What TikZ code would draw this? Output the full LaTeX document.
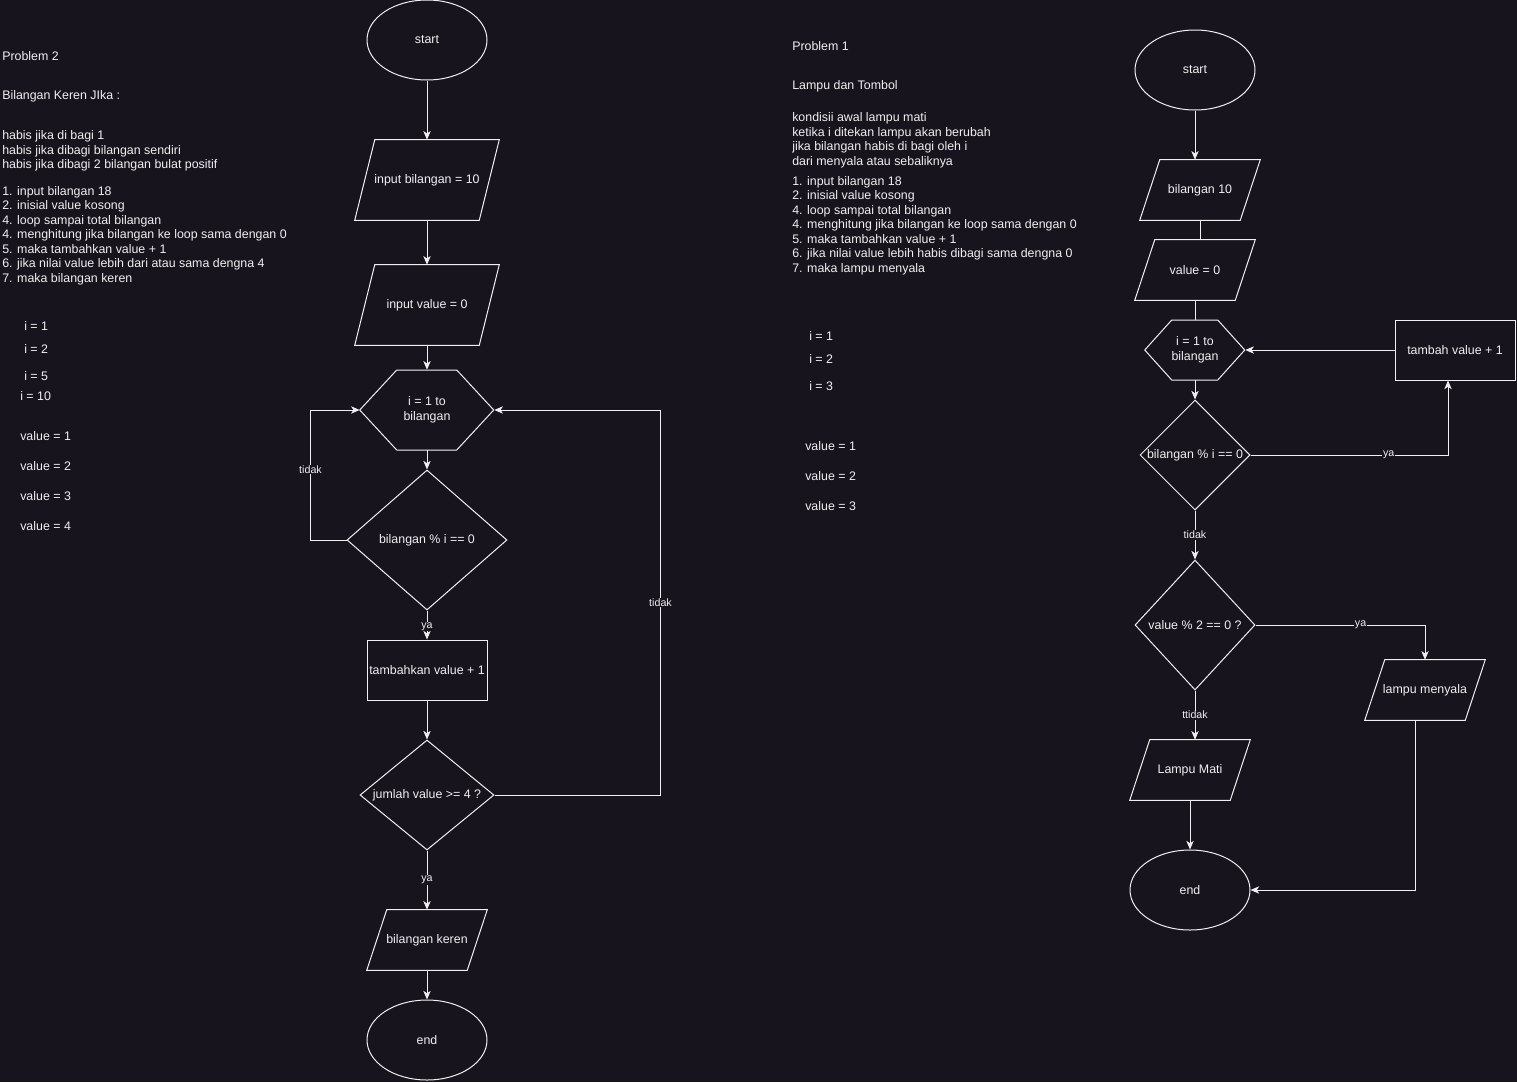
\documentclass[tikz,border=0pt]{standalone}
\usepackage{fontspec}
\setmainfont{Liberation Sans}
\usepackage{tikz}
\usetikzlibrary{shapes.geometric,arrows.meta}

\definecolor{bgdark}{RGB}{24,20,29}
\definecolor{inkwhite}{RGB}{240,240,240}

\tikzset{
  every node/.style={text=inkwhite,font=\fontsize{9.3}{10.9}\selectfont},
  terminal/.style={ellipse,draw=inkwhite,line width=0.75pt,minimum width=90pt,minimum height=60pt,inner sep=0pt},
  iobox/.style={rectangle,draw=none,minimum width=90pt,minimum height=45pt,inner sep=0pt},
  processbox/.style={rectangle,draw=inkwhite,line width=0.75pt,minimum width=90pt,minimum height=45pt,inner sep=1pt},
  decision/.style={diamond,draw=inkwhite,line width=0.75pt,inner sep=0pt,aspect=1},
  loopbox/.style={draw=none,inner sep=0pt,align=center},
  flow/.style={draw=inkwhite,line width=0.75pt},
  arr/.style={flow,-{Stealth[length=6.5pt,width=5.5pt,inset=1.8pt]}},
  edgelabel/.style={fill=bgdark,inner sep=0.5pt,font=\fontsize{8}{9}\selectfont},
  notes/.style={anchor=west,align=left,inner sep=0pt}
}
% outline of a data box: node name, slant
\newcommand{\iooutline}[2]{\draw[flow] ([xshift=#2]#1.north west) -- (#1.north east) -- ([xshift=-#2]#1.south east) -- (#1.south west) -- cycle;}

\begin{document}
\begin{tikzpicture}[x=0.75pt,y=0.75pt,yscale=-1,xscale=1]
\useasboundingbox (0,0) rectangle (1517,1082);
\fill[bgdark] (0,0) rectangle (1517,1082);

%%%%%%%% Problem 2 %%%%%%%%

%Shape: Ellipse
\node[terminal] (start2) at (427,40) {start};
%Flowchart: Data
\node[iobox,minimum width=108pt,minimum height=60pt] (inbil) at (427,180) {input bilangan = 10};
\iooutline{inbil}{15pt}
\node[iobox,minimum width=108pt,minimum height=60pt] (inval) at (427,305) {input value = 0};
\iooutline{inval}{15pt}
%Shape: Hexagon
\node[loopbox,minimum width=100.5pt,minimum height=60pt] (loop2) at (427,410) {i = 1 to\\bilangan};
\draw[flow] (loop2.west) -- ++(37,-40) -- ++(60,0) -- ++(37,40) -- ++(-37,40) -- ++(-60,0) -- cycle;
%Flowchart: Decision
\node[decision,aspect=1.14,minimum width=120pt,minimum height=105pt] (dec2) at (427,540) {bilangan \% i == 0};
%Flowchart: Process
\node[processbox] (tambah2) at (427,670) {tambahkan value + 1};
%Flowchart: Decision
\node[decision,aspect=1.22,minimum width=100.5pt,minimum height=82.5pt] (dec3) at (427,795) {jumlah value >= 4 ?};
%Flowchart: Data
\node[iobox] (keren) at (427,940) {bilangan keren};
\iooutline{keren}{15pt}
%Shape: Ellipse
\node[terminal] (end2) at (427,1040) {end};

%Straight Lines
\draw[arr] (start2) -- (inbil);
\draw[arr] (inbil) -- (inval);
\draw[arr] (inval) -- (loop2.north);
\draw[arr] (loop2.south) -- (dec2);
\draw[arr] (dec2.west) -- ++(-36,0) |- node[edgelabel,pos=0.27] {tidak} (loop2.west);
\draw[arr] (dec2) -- node[edgelabel,pos=0.55] {ya} (tambah2);
\draw[arr] (tambah2) -- (dec3);
\draw[arr] (dec3.east) -- ++(166,0) |- node[edgelabel,pos=0.25] {tidak} (loop2.east);
\draw[arr] (dec3) -- node[edgelabel] {ya} (keren);
\draw[arr] (keren) -- (end2);

% Text Node
\node[notes] (p2title) at (2,56) {Problem 2};
% Text Node
\node[notes] (p2name) at (2,96) {Bilangan Keren JIka :};
% Text Node
\node[notes] (p2rule) at (2,151) {habis jika di bagi 1\\habis jika dibagi bilangan sendiri\\habis jika dibagi 2 bilangan bulat positif};
% Text Node
\node[notes] (p2steps) at (2,235.5) {1. input bilangan 18\\2. inisial value kosong\\4. loop sampai total bilangan\\4. menghitung jika bilangan ke loop sama dengan 0\\5. maka tambahkan value + 1\\6. jika nilai value lebih dari atau sama dengna 4\\7. maka bilangan keren};
% Text Node
\node[notes] (p2ia) at (24,326) {i = 1};
\node[notes] (p2ib) at (24,349) {i = 2};
\node[notes] (p2ic) at (24,376) {i = 5};
\node[notes] (p2id) at (20,396) {i = 10};
% Text Node
\foreach \v [count=\k] in {436,466,496,526}
  \node[notes] (p2val\k) at (20,\v) {value = \k};

%%%%%%%% Problem 1 %%%%%%%%

%Shape: Ellipse
\node[terminal] (start1) at (1195,70) {start};
%Flowchart: Data
\node[iobox] (bil1) at (1200,190) {bilangan 10};
\iooutline{bil1}{15pt}
\node[iobox] (val1) at (1195,270) {value = 0};
\iooutline{val1}{15pt}
%Shape: Hexagon
\node[loopbox,minimum width=75pt,minimum height=45pt] (loop1) at (1195,350) {i = 1 to\\bilangan};
\draw[flow] (loop1.west) -- ++(27,-30) -- ++(46,0) -- ++(27,30) -- ++(-27,30) -- ++(-46,0) -- cycle;
%Flowchart: Decision
\node[decision,minimum width=82.5pt,minimum height=82.5pt] (dec1) at (1195,455) {bilangan \% i == 0};
%Flowchart: Process
\node[processbox] (tambah1) at (1455,350) {tambah value + 1};
%Flowchart: Decision
\node[decision,aspect=0.92,minimum width=90pt,minimum height=97.5pt] (dec4) at (1195,625) {value \% 2 == 0 ?};
%Flowchart: Data
\node[iobox] (menyala) at (1425,690) {lampu menyala};
\iooutline{menyala}{15pt}
\node[iobox] (mati) at (1190,770) {Lampu Mati};
\iooutline{mati}{15pt}
%Shape: Ellipse
\node[terminal] (end1) at (1190,890) {end};

%Straight Lines
\draw[arr] (start1) -- (bil1.north -| start1);
\draw[flow] (bil1.south) -- (bil1.south |- val1.north);
\draw[flow] (val1.south) -- (loop1.north);
\draw[arr] (loop1.south) -- (dec1);
\draw[arr] (dec1.east) -| node[edgelabel,pos=0.35] {ya} ([xshift=-5.25pt]tambah1.south);
\draw[arr] (tambah1.west) -- (loop1.east);
\draw[arr] (dec1) -- node[edgelabel] {tidak} (dec4);
\draw[arr] (dec4.east) -| node[edgelabel,pos=0.31] {ya} (menyala.north);
\draw[arr] (dec4.south) -- node[edgelabel] {ttidak} (dec4.south |- mati.north);
\draw[arr] (mati) -- (end1);
\draw[arr] ([xshift=-7.5pt]menyala.south) |- (end1.east);

% Text Node
\node[notes] (p1title) at (792,46) {Problem 1};
% Text Node
\node[notes] (p1name) at (792,86) {Lampu dan Tombol};
% Text Node
\node[notes] (p1rule) at (792,140.5) {kondisii awal lampu mati\\ketika i ditekan lampu akan berubah\\jika bilangan habis di bagi oleh i\\dari menyala atau sebaliknya};
% Text Node
\node[notes] (p1steps) at (792,225.5) {1. input bilangan 18\\2. inisial value kosong\\4. loop sampai total bilangan\\4. menghitung jika bilangan ke loop sama dengan 0\\5. maka tambahkan value + 1\\6. jika nilai value lebih habis dibagi sama dengna 0\\7. maka lampu menyala};
% Text Node
\node[notes] (p1ia) at (809,336) {i = 1};
\node[notes] (p1ib) at (809,359) {i = 2};
\node[notes] (p1ic) at (809,386) {i = 3};
% Text Node
\foreach \v [count=\k] in {446,476,506}
  \node[notes] (p1val\k) at (805,\v) {value = \k};

\end{tikzpicture}
\end{document}
